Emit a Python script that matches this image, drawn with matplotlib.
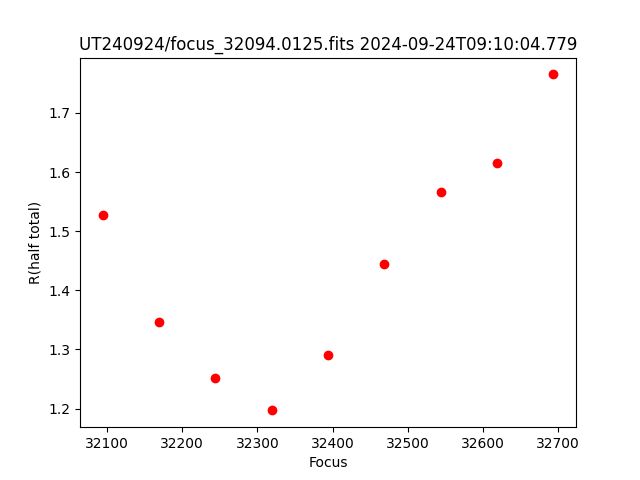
import matplotlib
matplotlib.use("Agg")
import matplotlib.pyplot as plt

focus = [32094, 32169, 32244, 32319, 32394, 32469, 32544, 32619, 32694]
r_half = [1.527, 1.346, 1.252, 1.197, 1.290, 1.445, 1.566, 1.616, 1.765]

fig = plt.figure(figsize=(6.4, 4.8), dpi=100)
plt.plot(focus, r_half, 'ro')
plt.xlabel("Focus")
plt.ylabel("R(half total)")
plt.title("UT240924/focus_32094.0125.fits 2024-09-24T09:10:04.779")
fig.savefig("out.png")
